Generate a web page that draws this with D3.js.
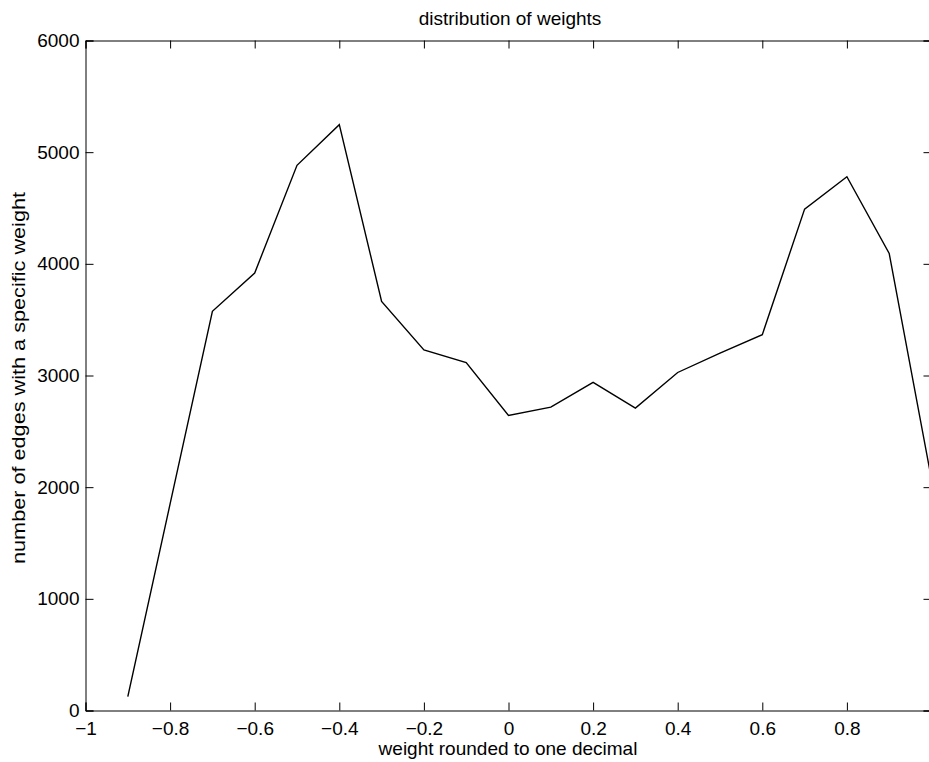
<!DOCTYPE html>
<html lang="en">
<head>
<meta charset="utf-8">
<title>distribution of weights</title>
<script src="https://cdn.jsdelivr.net/npm/d3@7"></script>
<style>
body { margin: 0; background: #fff; }
svg text { font-family: "Liberation Sans", Arial, Helvetica, sans-serif; fill: #000; }
</style>
</head>
<body>
<svg width="929" height="762"></svg>
<script>
// values
var weights = [-0.9, -0.8, -0.7, -0.6, -0.5, -0.4, -0.3, -0.2, -0.1, 0, 0.1, 0.2, 0.3, 0.4, 0.5, 0.6, 0.7, 0.8, 0.9, 1.0];
var counts  = [125, 1850, 3575, 3918, 4882, 5246, 3664, 3229, 3115, 2643, 2717, 2939, 2708, 3027, 3200, 3366, 4490, 4780, 4093, 2070];
var xTicks = [-1, -0.8, -0.6, -0.4, -0.2, 0, 0.2, 0.4, 0.6, 0.8];
var yTicks = [0, 1000, 2000, 3000, 4000, 5000, 6000];

var svg = d3.select("svg");
// plot box (right edge falls just outside the window, as in the original)
var mLeft = 85.5, mRight = 931.5, mTop = 40.5, mBottom = 710.5;

var x = d3.scaleLinear().domain([-1, 1]).range([mLeft, mRight]);
var y = d3.scaleLinear().domain([0, 6000]).range([mBottom, mTop]);

// bottom axis, ticks point inward
var gx = svg.append("g").attr("transform", "translate(0," + mBottom + ")")
    .call(d3.axisBottom(x).tickValues(xTicks).tickSize(-8).tickPadding(11).tickFormat(d3.format("")));
gx.selectAll("text").attr("font-size", 19).attr("dy", "0.71em");

// top axis, ticks only
svg.append("g").attr("transform", "translate(0," + mTop + ")")
    .call(d3.axisTop(x).tickValues(xTicks).tickSize(-8).tickFormat(""));

// left axis
var gy = svg.append("g").attr("transform", "translate(" + mLeft + ",0)")
    .call(d3.axisLeft(y).tickValues(yTicks).tickSize(-8).tickPadding(6).tickFormat(d3.format("d")));
gy.selectAll("text").attr("font-size", 19);

// right axis, ticks only
svg.append("g").attr("transform", "translate(" + mRight + ",0)")
    .call(d3.axisRight(y).tickValues(yTicks).tickSize(-8).tickFormat(""));

svg.selectAll("g").attr("font-family", null);
svg.selectAll(".domain").attr("stroke", "#000");
svg.selectAll(".tick line").attr("stroke", "#000");

var line = d3.line()
    .x(function(d, i) { return x(weights[i]); })
    .y(function(d) { return y(d); });

svg.append("path")
    .datum(counts)
    .attr("fill", "none")
    .attr("stroke", "#000")
    .attr("stroke-width", 1.4)
    .attr("d", line);

svg.append("text")
    .attr("x", 510).attr("y", 25)
    .attr("text-anchor", "middle")
    .attr("font-size", 19)
    .text("distribution of weights");

svg.append("text")
    .attr("x", 508).attr("y", 755)
    .attr("text-anchor", "middle")
    .attr("font-size", 19)
    .text("weight rounded to one decimal");

svg.append("text")
    .attr("transform", "translate(25,378) rotate(-90)")
    .attr("text-anchor", "middle")
    .attr("font-size", 19)
    .attr("textLength", 372)
    .attr("lengthAdjust", "spacingAndGlyphs")
    .text("number of edges with a specific weight");
</script>
</body>
</html>
